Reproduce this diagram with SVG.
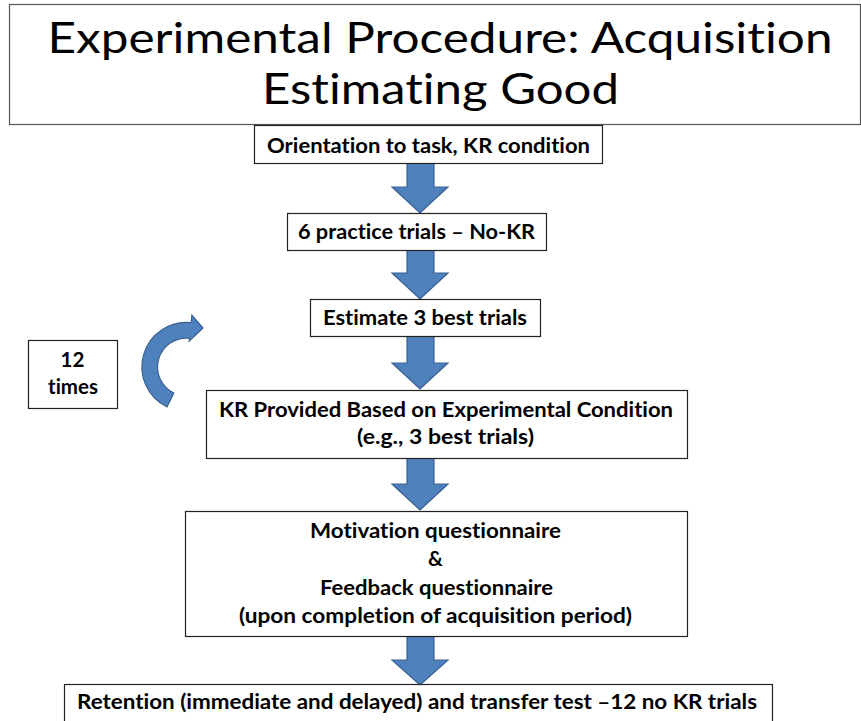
<svg xmlns="http://www.w3.org/2000/svg" width="861" height="721" viewBox="0 0 861 721">
<style>
text{font-variant-ligatures:none;font-feature-settings:"liga" 0,"clig" 0}
.box{fill:#fff;stroke:#222;stroke-width:1.2}
.tbox{fill:#fff;stroke:#555;stroke-width:1.2}
.t{font-family:Lato,"Liberation Sans",sans-serif;font-weight:bold;font-size:20.5px;fill:#000;text-anchor:middle}
.title{font-family:Lato,"Liberation Sans",sans-serif;font-size:42px;fill:#000;text-anchor:middle}
.arr{fill:#4F81BD;stroke:#3A6193;stroke-width:1.2;stroke-linejoin:miter}
</style>
<rect width="861" height="721" fill="#fff"/>
<g id="title">
<rect class="tbox" x="9.5" y="4.5" width="851" height="120"/>
<text class="title" x="440" y="53" textLength="785" lengthAdjust="spacingAndGlyphs">Experimental Procedure: Acquisition</text>
<text class="title" x="440.5" y="104" textLength="357" lengthAdjust="spacingAndGlyphs">Estimating Good</text>
</g>
<g id="connectors">
<polygon class="arr" points="407,163 434,163 434,187 448,187 420,213 392,187 407,187"/>
<polygon class="arr" points="407,250 434,250 434,273 448,273 420,299 392,273 407,273"/>
<polygon class="arr" points="407,336 434,336 434,363 448,363 420,389 392,363 407,363"/>
<polygon class="arr" points="407,458 434,458 434,484 448,484 420,510 392,484 407,484"/>
<polygon class="arr" points="407,636 434,636 434,660 448,660 420,685 392,660 407,660"/>
<path class="arr" d="M167,407 A44.5,44.5 0 0 1 191.15,322.7 L191.9,315.3 L203,328 L189.2,341.1 L189.5,338.2 A29,29 0 0 0 173.8,393.1 Z"/>
</g>
<g id="n1">
<rect class="box" x="254.5" y="125.5" width="348" height="38"/>
<text class="t" x="428.5" y="153" textLength="323" lengthAdjust="spacingAndGlyphs">Orientation to task, KR condition</text>
</g>
<g id="n2">
<rect class="box" x="287.5" y="213.5" width="259" height="37"/>
<text class="t" x="416.5" y="239" textLength="237" lengthAdjust="spacingAndGlyphs">6 practice trials – No-KR</text>
</g>
<g id="n3">
<rect class="box" x="310.5" y="299.5" width="230" height="37"/>
<text class="t" x="425" y="325" textLength="204" lengthAdjust="spacingAndGlyphs">Estimate 3 best trials</text>
</g>
<g id="n4">
<rect class="box" x="206.5" y="390.5" width="481" height="68"/>
<text class="t" x="446" y="417" textLength="454" lengthAdjust="spacingAndGlyphs">KR Provided Based on Experimental Condition</text>
<text class="t" x="445.5" y="444" textLength="177" lengthAdjust="spacingAndGlyphs">(e.g., 3 best trials)</text>
</g>
<g id="n5">
<rect class="box" x="185.5" y="511.5" width="502" height="125"/>
<text class="t" x="435.5" y="538" textLength="251" lengthAdjust="spacingAndGlyphs">Motivation questionnaire</text>
<text class="t" x="435.5" y="566">&amp;</text>
<text class="t" x="436.5" y="595" textLength="233" lengthAdjust="spacingAndGlyphs">Feedback questionnaire</text>
<text class="t" x="435.5" y="623" textLength="393" lengthAdjust="spacingAndGlyphs">(upon completion of acquisition period)</text>
</g>
<g id="n6">
<rect class="box" x="64.5" y="684.5" width="708" height="50"/>
<text class="t" x="417" y="709" textLength="680" lengthAdjust="spacingAndGlyphs">Retention (immediate and delayed) and transfer test –12 no KR trials</text>
</g>
<g id="n7">
<rect class="box" x="28.5" y="340.5" width="89" height="68"/>
<text class="t" x="72.5" y="367">12</text>
<text class="t" x="73" y="394">times</text>
</g>
</svg>
